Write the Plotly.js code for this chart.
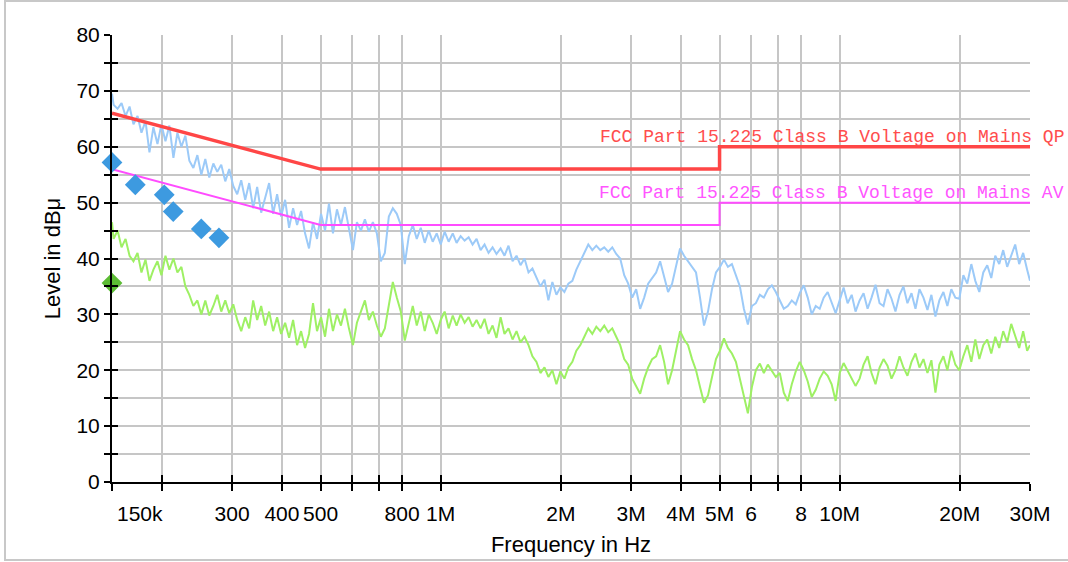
<!DOCTYPE html>
<html>
<head>
<meta charset="utf-8">
<script src="https://cdn.plot.ly/plotly-3.0.1.min.js"></script>
<style>
  html, body { margin:0; padding:0; background:#fff; overflow:hidden; }
  #frame { position:absolute; left:4px; top:0px; width:1100px; height:557px; border:2px solid #c8c8c8; pointer-events:none; }
  #chart { position:absolute; left:0; top:0; width:1068px; height:562px; }
</style>
</head>
<body>
<div id="chart"></div>
<div id="frame"></div>
<script>
// ---- Data (frequency in MHz, level in dBµV) ----
const freqMHz = [
  0.150,
  0.1514,0.1549,0.1585,0.1622,0.1660,0.1698,0.1738,0.1778,0.1820,0.1862,
  0.1905,0.1950,0.1995,0.2042,0.2089,0.2138,0.2188,0.2239,0.2291,0.2344,
  0.2399,0.2455,0.2512,0.2570,0.2630,0.2692,0.2754,0.2818,0.2884,0.2951,
  0.3020,0.3090,0.3162,0.3236,0.3311,0.3388,0.3467,0.3548,0.3631,0.3715,
  0.3802,0.3890,0.3981,0.4074,0.4169,0.4266,0.4365,0.4467,0.4571,0.4677,
  0.4786,0.4898,0.5012,0.5129,0.5248,0.5370,0.5495,0.5623,0.5754,0.5888,
  0.6026,0.6166,0.6310,0.6457,0.6607,0.6761,0.6918,0.7079,0.7244,0.7413,
  0.7586,0.7762,0.7943,0.8128,0.8318,0.8511,0.8710,0.8913,0.9120,0.9333,
  0.9550,0.9772,
  1.000,1.023,1.047,1.072,1.096,1.122,1.148,1.175,1.202,1.230,
  1.259,1.288,1.318,1.349,1.380,1.413,1.445,1.479,1.514,1.549,
  1.585,1.622,1.660,1.698,1.738,1.778,1.820,1.862,1.905,1.950,
  1.995,2.042,2.089,2.138,2.188,2.239,2.291,2.344,2.399,2.455,
  2.512,2.570,2.630,2.692,2.754,2.818,2.884,2.951,3.020,3.090,
  3.162,3.236,3.311,3.388,3.467,3.548,3.631,3.715,3.802,3.890,
  3.981,4.074,4.169,4.266,4.365,4.467,4.571,4.677,4.786,4.898,
  5.012,5.129,5.248,5.370,5.495,5.623,5.754,5.888,6.026,6.166,
  6.310,6.457,6.607,6.761,6.918,7.079,7.244,7.413,7.586,7.762,
  7.943,8.128,8.318,8.511,8.710,8.913,9.120,9.333,9.550,9.772,
  10.00,10.23,10.47,10.72,10.96,11.22,11.48,11.75,12.02,12.30,
  12.59,12.88,13.18,13.49,13.80,14.13,14.45,14.79,15.14,15.49,
  15.85,16.22,16.60,16.98,17.38,17.78,18.20,18.62,19.05,19.50,
  19.95,20.42,20.89,21.38,21.88,22.39,22.91,23.44,23.99,24.55,
  25.12,25.70,26.30,26.92,27.54,28.18,28.84,29.51,
  30.00
];

const peakLevel = [
  69.5,
  67.5,66.8,67.8,65.5,67.2,64.0,65.5,62.5,64.6,59.0,
  63.5,60.5,64.0,61.0,63.8,58.0,62.5,60.0,62.0,57.5,
  56.2,58.5,55.0,57.8,54.5,57.0,55.5,56.8,53.8,56.0,
  53.0,51.5,54.0,50.5,53.5,49.0,52.8,48.2,51.0,53.5,
  48.0,51.5,47.5,50.5,45.5,49.0,46.0,48.5,44.5,41.8,
  46.5,43.5,48.0,45.0,49.8,44.5,48.8,46.0,49.2,45.0,
  41.5,46.5,45.0,47.0,44.8,46.5,44.5,39.5,41.0,47.5,
  49.0,48.0,46.0,39.0,44.0,46.0,43.5,45.5,42.8,45.0,
  43.0,44.5,
  42.5,44.8,43.0,44.5,42.8,44.0,43.2,43.8,42.5,43.5,
  41.5,42.5,41.0,42.0,40.8,41.8,40.5,42.3,39.5,40.5,
  38.8,40.0,37.5,38.2,36.5,35.0,36.2,32.5,35.8,33.5,
  34.8,34.0,35.5,36.0,38.0,39.5,41.0,42.5,41.5,42.3,
  41.5,42.0,41.2,42.0,40.8,40.0,37.0,35.5,33.0,34.5,
  31.0,33.0,35.5,36.5,37.5,39.5,36.5,34.0,35.5,38.5,
  41.8,40.5,39.5,38.5,37.5,33.0,28.0,30.5,34.5,37.5,
  38.5,39.8,38.5,39.0,37.0,35.0,31.0,28.2,31.5,32.0,
  33.5,33.0,34.5,35.2,34.0,32.5,31.0,31.5,32.5,31.8,
  33.8,35.2,33.0,30.0,31.5,31.0,33.0,34.0,32.0,30.2,
  32.5,34.8,32.0,33.5,30.5,32.5,33.8,31.0,33.0,35.3,
  32.0,31.5,34.5,32.8,30.5,33.5,35.0,32.0,33.8,31.0,
  34.5,33.0,30.8,33.5,29.6,32.5,34.0,31.5,34.5,33.0,
  32.8,37.0,35.5,39.0,36.0,34.0,37.5,38.8,36.5,40.5,
  39.0,41.5,38.5,40.5,42.5,39.0,41.0,38.0,
  36.0
];

const avgLevel = [
  46.5,
  43.5,45.0,42.0,43.5,40.5,39.5,41.0,37.5,39.8,36.0,
  38.0,39.5,37.0,40.5,38.0,40.0,37.5,38.5,35.0,33.5,
  31.5,32.5,30.0,32.5,29.8,31.5,33.5,30.5,32.5,30.2,
  31.8,29.0,27.0,29.5,27.5,32.5,29.0,31.5,28.0,30.5,
  27.0,29.5,26.5,28.5,25.8,29.0,24.5,27.0,24.0,26.5,
  32.0,27.0,29.5,26.0,31.0,27.0,30.0,28.0,31.0,27.5,
  24.5,28.5,30.5,32.5,29.0,30.5,28.0,26.0,27.5,31.5,
  35.8,33.0,30.5,25.3,28.5,31.5,28.0,30.5,27.0,30.0,
  28.5,26.5,
  29.0,30.5,27.5,29.8,28.0,30.0,28.5,29.5,27.8,29.0,
  27.5,29.2,26.5,28.0,25.8,29.5,26.5,27.5,25.5,27.0,
  25.0,26.0,24.5,22.5,21.5,19.5,20.5,18.8,20.0,17.5,
  19.8,18.5,20.5,21.5,23.5,24.5,26.0,27.5,26.5,27.8,
  27.0,28.0,26.8,27.5,26.0,24.5,22.0,21.0,18.5,17.0,
  15.8,18.5,20.5,22.0,22.5,24.5,21.5,17.5,20.0,23.5,
  27.0,25.5,24.5,22.0,20.0,17.0,14.2,15.5,19.0,22.0,
  23.5,25.7,24.0,23.0,21.5,18.5,15.5,12.3,17.0,20.0,
  21.2,19.5,21.0,20.0,18.8,19.5,16.0,14.5,17.5,19.8,
  21.5,20.0,18.0,15.2,16.5,18.5,19.8,19.0,17.5,14.5,
  19.5,21.3,20.0,18.5,17.2,18.5,21.0,22.5,19.5,17.5,
  20.5,22.0,20.8,18.5,20.0,22.5,20.5,19.0,21.5,23.0,
  20.5,22.0,19.5,21.8,16.0,21.0,22.5,20.0,23.5,21.0,
  20.0,22.5,24.5,21.5,25.5,22.0,24.5,25.5,23.0,26.0,
  24.0,27.0,25.0,28.3,26.0,24.0,27.0,23.5,
  24.5
];

const limitFreq = [0.15, 0.5, 5, 5, 30];
const qpLimit   = [66, 56, 56, 60, 60];
const avLimit   = [56, 46, 46, 50, 50];

const qpPeakFreq  = [0.150, 0.1716, 0.2028, 0.2136, 0.2511, 0.2781];
const qpPeakLevel = [57.2, 53.2, 51.4, 48.4, 45.3, 43.7];
const avPeakFreq  = [0.150];
const avPeakLevel = [35.6];

const xTickVals = [0.15,0.2,0.3,0.4,0.5,0.6,0.7,0.8,1,2,3,4,5,6,7,8,10,20,30];
const xTickText = ['','','300','400','500','','','800','1M','2M','3M','4M','5M','6','','8','10M','20M','30M'];
const firstTickLabel = '150k';
const yTickVals = [0,5,10,15,20,25,30,35,40,45,50,55,60,65,70,75,80];
const yTickText = ['0','','10','','20','','30','','40','','50','','60','','70','','80'];

const qpLabel = 'FCC Part 15.225 Class B Voltage on Mains QP';
const avLabel = 'FCC Part 15.225 Class B Voltage on Mains AV';

// ---- Traces ----
const traces = [
  {x:freqMHz, y:peakLevel, type:'scatter', mode:'lines', line:{color:'#9ccaf8', width:2}, hoverinfo:'skip'},
  {x:freqMHz, y:avgLevel,  type:'scatter', mode:'lines', line:{color:'#9ef064', width:2}, hoverinfo:'skip'},
  {x:limitFreq, y:qpLimit, type:'scatter', mode:'lines', line:{color:'#ff4646', width:3.5}},
  {x:limitFreq, y:avLimit, type:'scatter', mode:'lines', line:{color:'#ff4cff', width:2}},
  {x:qpPeakFreq, y:qpPeakLevel, type:'scatter', mode:'markers', marker:{symbol:'diamond', size:16, color:'#3d9ae0'}, cliponaxis:false},
  {x:avPeakFreq, y:avPeakLevel, type:'scatter', mode:'markers', xaxis:'x2', yaxis:'y2', marker:{symbol:'diamond', size:16, color:'#5cbc34'}, cliponaxis:false}
];

const xr = [Math.log10(0.15), Math.log10(30)];
const tickFont = {family:'Liberation Sans, Arial, sans-serif', size:21, color:'#000'};
const titleFont = {family:'Liberation Sans, Arial, sans-serif', size:22, color:'#000'};

const layout = {
  width:1068, height:562,
  margin:{l:112, r:38, t:35, b:80},
  paper_bgcolor:'rgba(0,0,0,0)', plot_bgcolor:'#ffffff',
  showlegend:false,
  font:tickFont,
  xaxis:{
    type:'log', range:xr, tickmode:'array', tickvals:xTickVals, ticktext:xTickText,
    ticks:'outside', ticklen:7, tickwidth:2, tickcolor:'#000',
    showline:true, linecolor:'#000', linewidth:2,
    showgrid:true, gridcolor:'#c6c6c6', gridwidth:2, zeroline:false,
    tickfont:tickFont, ticklabelstandoff:5,
    title:{text:'Frequency in Hz', font:titleFont, standoff:12}
  },
  yaxis:{
    range:[0,80], tickmode:'array', tickvals:yTickVals, ticktext:yTickText,
    ticks:'outside', ticklen:6, tickwidth:2, tickcolor:'#000',
    showline:true, linecolor:'#000', linewidth:2,
    showgrid:true, gridcolor:'#c6c6c6', gridwidth:2, zeroline:false,
    tickfont:tickFont,
    title:{text:'Level in dBμ', font:titleFont, standoff:10}
  },
  xaxis2:{
    overlaying:'x', anchor:'y', side:'bottom', type:'log', range:xr,
    tickmode:'array', tickvals:xTickVals, ticks:'inside', ticklen:7, tickwidth:2, tickcolor:'#000',
    showticklabels:false, showgrid:false, showline:false, zeroline:false
  },
  yaxis2:{
    overlaying:'y', anchor:'x', side:'left', range:[0,80],
    tickmode:'array', tickvals:yTickVals, ticks:'inside', ticklen:6, tickwidth:2, tickcolor:'#000',
    showticklabels:false, showgrid:false, showline:false, zeroline:false
  },
  annotations:[
    {xref:'x', yref:'paper', x:Math.log10(0.15), xanchor:'left', xshift:3, y:0, yanchor:'top', yshift:-18,
     text:firstTickLabel, showarrow:false, font:tickFont},
    {xref:'paper', yref:'y', x:1.039, xanchor:'right', y:61.8, yanchor:'middle', text:qpLabel, showarrow:false,
     font:{family:'Liberation Mono, monospace', size:18, color:'#ff4d4d'}},
    {xref:'paper', yref:'y', x:1.039, xanchor:'right', y:51.8, yanchor:'middle', text:avLabel, showarrow:false,
     font:{family:'Liberation Mono, monospace', size:18, color:'#ff55ff'}}
  ]
};

Plotly.newPlot('chart', traces, layout, {displayModeBar:false, staticPlot:true});
</script>
</body>
</html>
